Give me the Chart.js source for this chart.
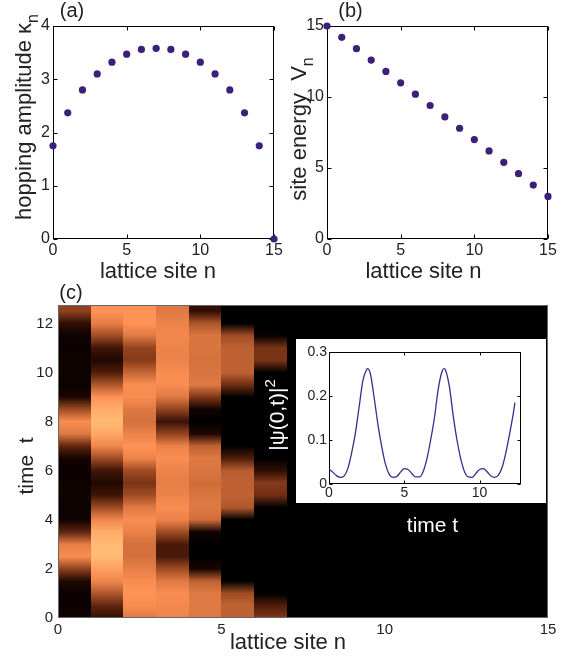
<!DOCTYPE html>
<html>
<head>
<meta charset="utf-8">
<script src="https://cdn.jsdelivr.net/npm/chart.js@4.4.1/dist/chart.umd.min.js"></script>
<style>
  body { margin: 0; background: #fff; }
  #wrap { position: relative; width: 565px; height: 666px; }
  #wrap canvas { position: absolute; left: 0; top: 0; }
</style>
</head>
<body>
<div id="wrap">
  <canvas id="chartA" width="565" height="666"></canvas>
  <canvas id="chartB" width="565" height="666"></canvas>
  <canvas id="chartC" width="565" height="666"></canvas>
  <canvas id="chartD" width="565" height="666"></canvas>
</div>
<script>
// ---- data ----
const sites = [0, 1, 2, 3, 4, 5, 6, 7, 8, 9, 10, 11, 12, 13, 14, 15];
const hopping = [1.75, 2.37, 2.8, 3.1, 3.32, 3.47, 3.56, 3.58, 3.56, 3.47, 3.32, 3.1, 2.8, 2.37, 1.75, 0];
const siteEnergy = [15, 14.2, 13.4, 12.6, 11.8, 11, 10.2, 9.4, 8.6, 7.8, 7, 6.2, 5.4, 4.6, 3.8, 3];
const siteTicks = [0, 5, 10, 15];
const hoppingTicks = [0, 1, 2, 3, 4];
const energyTicks = [0, 5, 10, 15];

// panel (c): colour level (0..1 of the copper map) per lattice column, sampled in time
const heatTimes = [0, 0.5, 1, 1.5, 2, 2.5, 3, 3.5, 4, 4.5, 5, 5.5, 6, 6.5, 7, 7.5, 8, 8.5, 9, 9.5, 10, 10.5, 11, 11.5, 12, 12.5];
const heatSite0 = [0.05, 0.03, 0.03, 0.1, 0.45, 0.78, 0.72, 0.3, 0.05, 0.03, 0.05, 0.04, 0.03, 0.06, 0.3, 0.7, 0.78, 0.5, 0.08, 0.03, 0.04, 0.05, 0.03, 0.04, 0.15, 0.45];
const heatSite1 = [0.15, 0.3, 0.55, 0.75, 0.85, 0.95, 0.95, 0.9, 0.75, 0.5, 0.2, 0.1, 0.2, 0.5, 0.75, 0.88, 0.95, 0.9, 0.8, 0.55, 0.25, 0.1, 0.2, 0.5, 0.72, 0.8];
const heatSite2 = [0.7, 0.78, 0.8, 0.78, 0.72, 0.66, 0.66, 0.73, 0.78, 0.7, 0.5, 0.38, 0.5, 0.74, 0.8, 0.74, 0.66, 0.7, 0.78, 0.78, 0.62, 0.42, 0.46, 0.7, 0.8, 0.8];
const heatSite3 = [0.74, 0.76, 0.78, 0.7, 0.5, 0.23, 0.23, 0.5, 0.74, 0.78, 0.74, 0.72, 0.74, 0.78, 0.74, 0.46, 0.18, 0.46, 0.7, 0.78, 0.78, 0.74, 0.74, 0.76, 0.74, 0.7];
const heatSite4 = [0.7, 0.7, 0.7, 0.6, 0.08, 0, 0, 0.05, 0.65, 0.7, 0.68, 0.65, 0.68, 0.7, 0.6, 0.1, 0, 0.05, 0.4, 0.7, 0.68, 0.66, 0.68, 0.68, 0.55, 0.15];
const heatSite5 = [0.6, 0.6, 0.5, 0, 0, 0, 0, 0, 0, 0.55, 0.6, 0.6, 0.58, 0.25, 0, 0, 0, 0, 0, 0.35, 0.6, 0.6, 0.6, 0.5, 0, 0];
const heatSite6 = [0.4, 0.25, 0, 0, 0, 0, 0, 0, 0, 0, 0.35, 0.42, 0.15, 0, 0, 0, 0, 0, 0, 0, 0, 0.38, 0.38, 0.02, 0, 0];
const heatSites = [0, 1, 2, 3, 4, 5, 6];
const heatLevels = [heatSite0, heatSite1, heatSite2, heatSite3, heatSite4, heatSite5, heatSite6];
const timeTicks = [0, 2, 4, 6, 8, 10, 12];

// inset: |psi(0,t)|^2
const psiTimes = [0, 0.25, 0.5, 0.75, 1, 1.25, 1.5, 1.75, 2, 2.25, 2.5, 2.56, 2.75, 3, 3.25, 3.5, 3.75, 4, 4.25, 4.5, 4.75, 5, 5.25, 5.5, 5.75, 6, 6.25, 6.5, 6.75, 7, 7.25, 7.5, 7.63, 7.75, 8, 8.25, 8.5, 8.75, 9, 9.25, 9.5, 9.75, 10, 10.25, 10.5, 10.75, 11, 11.25, 11.5, 11.75, 12, 12.25, 12.35];
const psiValues = [0.034, 0.027, 0.019, 0.015, 0.018, 0.035, 0.07, 0.115, 0.175, 0.235, 0.26, 0.262, 0.25, 0.196, 0.135, 0.085, 0.045, 0.022, 0.015, 0.017, 0.027, 0.035, 0.033, 0.024, 0.016, 0.016, 0.028, 0.057, 0.1, 0.15, 0.215, 0.255, 0.262, 0.258, 0.22, 0.155, 0.1, 0.057, 0.028, 0.016, 0.015, 0.024, 0.033, 0.035, 0.028, 0.018, 0.015, 0.02, 0.038, 0.072, 0.115, 0.163, 0.185];
const insetTimeTicks = [0, 5, 10];
const psiTicks = [0, 0.1, 0.2, 0.3];

// ---- drawing ----
const W = 565, H = 666;
const FONT = '"Liberation Sans", Arial, Helvetica, sans-serif';
const DOT = '#3c1f78';
Chart.defaults.font.family = FONT;
Chart.defaults.color = '#222';

// copper-like map, tuned to the printed colours
function copper(v) {
    const r = Math.min(255, Math.round(319 * v));
    const g = Math.round(200 * Math.pow(v, 1.4));
    const b = Math.round(127 * Math.pow(v, 1.8));
    return 'rgb(' + r + ',' + g + ',' + b + ')';
}

function axis(min, max, ticks, size, pad, prop, val) {
    return {
        type: 'linear', min: min, max: max,
        grid: { display: false, drawTicks: false },
        border: { display: false },
        afterBuildTicks: s => { s.ticks = ticks.map(v => ({ value: v })); },
        ticks: { font: { size: size }, padding: pad, color: '#222', maxRotation: 0, autoSkip: false },
        afterFit: s => { s[prop] = val; }
    };
}

function layoutFor(box, yw, xh) {
    return { padding: { left: box.l - yw, top: box.t, right: W - box.r, bottom: H - box.b - xh } };
}

function drawRich(ctx, it) {
    const big = it.size + 'px ' + FONT;
    const small = Math.round(it.size * 0.72) + 'px ' + FONT;
    ctx.save();
    ctx.translate(it.x, it.y);
    if (it.rot) ctx.rotate(-Math.PI / 2);
    ctx.fillStyle = it.color || '#222';
    ctx.textBaseline = 'alphabetic';
    ctx.textAlign = 'left';
    let total = 0;
    it.parts.forEach(p => { ctx.font = p[1] ? small : big; total += ctx.measureText(p[0]).width; });
    let cx = -total / 2;
    it.parts.forEach(p => {
        ctx.font = p[1] ? small : big;
        const dy = p[1] === 'sub' ? it.size * 0.3 : (p[1] === 'sup' ? -it.size * 0.42 : 0);
        ctx.fillText(p[0], cx, dy);
        cx += ctx.measureText(p[0]).width;
    });
    ctx.restore();
}

function textPlugin(items) {
    return { id: 'texts', afterDraw(chart) { items.forEach(it => drawRich(chart.ctx, it)); } };
}

function framePlugin(color, tl, withTicks) {
    return {
        id: 'frame',
        beforeDatasetsDraw(chart) {
            const { ctx, chartArea: a, scales: { x, y } } = chart;
            const L = Math.round(a.left) + 0.5, R = Math.round(a.right) - 0.5;
            const T = Math.round(a.top) + 0.5, B = Math.round(a.bottom) - 0.5;
            ctx.save();
            ctx.strokeStyle = color;
            ctx.lineWidth = 1;
            ctx.strokeRect(L, T, R - L, B - T);
            if (withTicks) {
                ctx.beginPath();
                x.ticks.forEach(t => {
                    const px = Math.round(x.getPixelForValue(t.value)) + 0.5;
                    ctx.moveTo(px, B); ctx.lineTo(px, B - tl);
                    ctx.moveTo(px, T); ctx.lineTo(px, T + tl);
                });
                y.ticks.forEach(t => {
                    const py = Math.round(y.getPixelForValue(t.value)) + 0.5;
                    ctx.moveTo(L, py); ctx.lineTo(L + tl, py);
                    ctx.moveTo(R, py); ctx.lineTo(R - tl, py);
                });
                ctx.stroke();
            }
            ctx.restore();
        }
    };
}

const heatPlugin = {
    id: 'heat',
    beforeDatasetsDraw(chart) {
        const { ctx, chartArea: a, scales: { x, y } } = chart;
        ctx.save();
        ctx.fillStyle = copper(0);
        ctx.fillRect(a.left, a.top, a.width, a.height);
        const t0 = heatTimes[0], t1 = heatTimes[heatTimes.length - 1];
        const y0 = y.getPixelForValue(t0), y1 = y.getPixelForValue(t1);
        heatLevels.forEach((levels, i) => {
            const g = ctx.createLinearGradient(0, y0, 0, y1);
            levels.forEach((v, k) => g.addColorStop((heatTimes[k] - t0) / (t1 - t0), copper(v)));
            ctx.fillStyle = g;
            const xa = Math.round(x.getPixelForValue(heatSites[i]));
            const xb = Math.round(x.getPixelForValue(heatSites[i] + 1));
            ctx.fillRect(xa, a.top, xb - xa, a.bottom - a.top);
        });
        ctx.restore();
    }
};

const insetBg = {
    id: 'insetBg',
    beforeDraw(chart) {
        const ctx = chart.ctx;
        ctx.save();
        ctx.fillStyle = '#fff';
        ctx.fillRect(296, 339, 250, 164);
        ctx.restore();
    }
};

const boxA = { l: 53, t: 26, r: 274, b: 239 };
const boxB = { l: 327, t: 26, r: 548, b: 239 };
const boxC = { l: 58, t: 305, r: 548, b: 618 };
const boxD = { l: 329, t: 352, r: 521, b: 484 };

const common = { responsive: false, animation: false, devicePixelRatio: 1, events: [],
    plugins: { legend: { display: false }, tooltip: { enabled: false } } };

new Chart(document.getElementById('chartA'), {
    type: 'scatter',
    data: { datasets: [{ data: sites.map((n, i) => ({ x: n, y: hopping[i] })),
        pointRadius: 3.6, pointBackgroundColor: DOT, pointBorderWidth: 0, clip: false }] },
    options: Object.assign({}, common, {
        layout: layoutFor(boxA, 45, 25),
        scales: { x: axis(0, 15, siteTicks, 16, 2, 'height', 25), y: axis(0, 4, hoppingTicks, 16, 3, 'width', 45) }
    }),
    plugins: [framePlugin('#000', 4, true), textPlugin([
        { parts: [['(a)']], x: 72, y: 16.5, size: 20 },
        { parts: [['hopping amplitude κ'], ['n', 'sub']], x: 31, y: 117, size: 22, rot: true },
        { parts: [['lattice site n']], x: 158, y: 278, size: 22 }
    ])]
});

new Chart(document.getElementById('chartB'), {
    type: 'scatter',
    data: { datasets: [{ data: sites.map((n, i) => ({ x: n, y: siteEnergy[i] })),
        pointRadius: 3.6, pointBackgroundColor: DOT, pointBorderWidth: 0, clip: false }] },
    options: Object.assign({}, common, {
        layout: layoutFor(boxB, 45, 25),
        scales: { x: axis(0, 15, siteTicks, 16, 2, 'height', 25), y: axis(0, 15, energyTicks, 16, 3, 'width', 45) }
    }),
    plugins: [framePlugin('#000', 4, true), textPlugin([
        { parts: [['(b)']], x: 350.5, y: 16.5, size: 20 },
        { parts: [['site energy  V'], ['n', 'sub']], x: 306, y: 129, size: 22, rot: true },
        { parts: [['lattice site n']], x: 423.5, y: 278, size: 22 }
    ])]
});

new Chart(document.getElementById('chartC'), {
    type: 'scatter',
    data: { datasets: [{ data: [] }] },
    options: Object.assign({}, common, {
        layout: layoutFor(boxC, 45, 25),
        scales: { x: axis(0, 15, siteTicks, 15, 3, 'height', 25), y: axis(0, 12.75, timeTicks, 15, 5, 'width', 45) }
    }),
    plugins: [heatPlugin, framePlugin('#666', 0, false), textPlugin([
        { parts: [['(c)']], x: 71, y: 299, size: 20 },
        { parts: [['time  t']], x: 33, y: 466, size: 21, rot: true },
        { parts: [['lattice site n']], x: 288, y: 649, size: 22 },
        { parts: [['|ψ(0,t)|'], ['2', 'sup']], x: 284, y: 415, size: 21, rot: true, color: '#fff' },
        { parts: [['time t']], x: 432.5, y: 531.5, size: 21, color: '#fff' }
    ])]
});

new Chart(document.getElementById('chartD'), {
    type: 'scatter',
    data: { datasets: [{ data: psiTimes.map((t, i) => ({ x: t, y: psiValues[i] })),
        showLine: true, cubicInterpolationMode: 'monotone', borderColor: '#3b2c8e', borderWidth: 1.3,
        pointRadius: 0 }] },
    options: Object.assign({}, common, {
        layout: layoutFor(boxD, 45, 25),
        scales: { x: axis(0, 12.75, insetTimeTicks, 14, 1, 'height', 25), y: axis(0, 0.3, psiTicks, 14, 2, 'width', 45) }
    }),
    plugins: [insetBg, framePlugin('#000', 3, true)]
});
</script>
</body>
</html>
